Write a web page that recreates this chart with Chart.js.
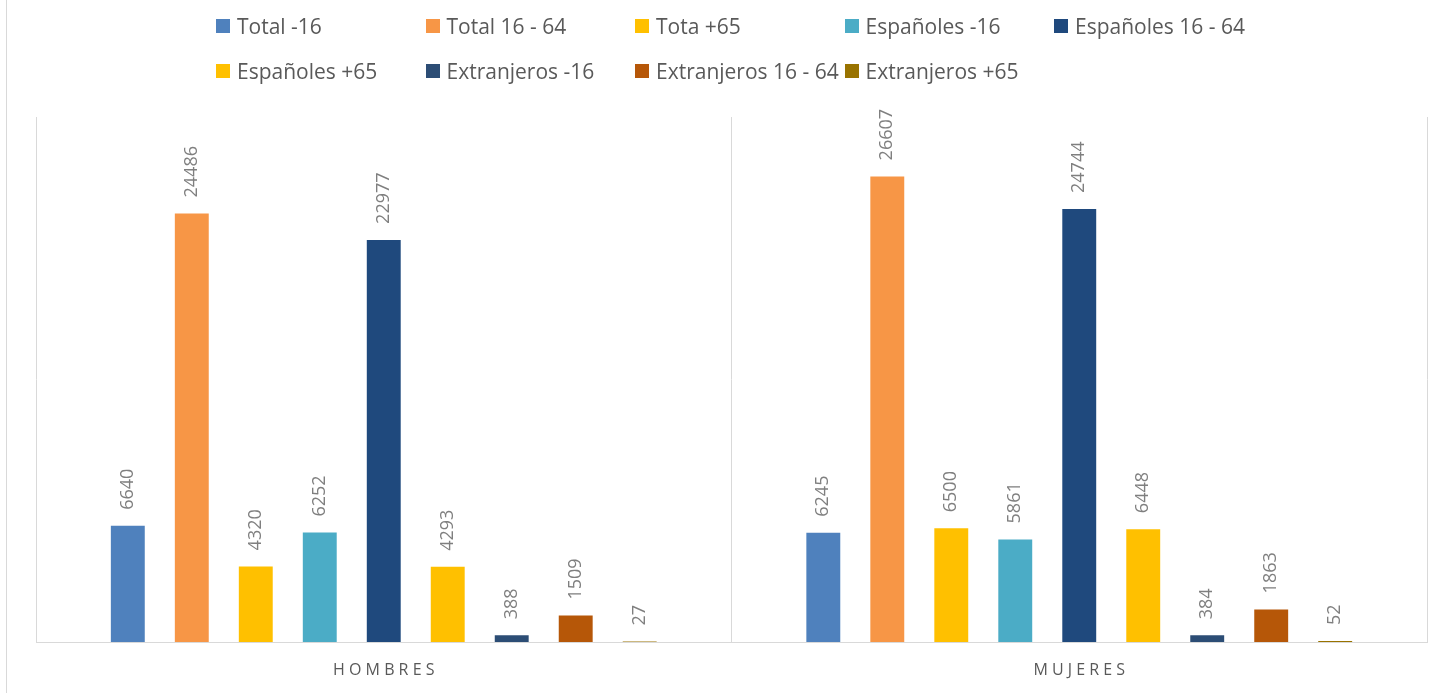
<!DOCTYPE html>
<html>
<head>
<meta charset="utf-8">
<script src="https://cdn.jsdelivr.net/npm/chart.js@4/dist/chart.umd.min.js"></script>
<style>
  html, body { margin: 0; padding: 0; background: #fff; }
  #marco { position: relative; width: 1445px; height: 693px; }
  #borde { position: absolute; left: 6px; top: 0; width: 1px; height: 693px; background: #d9d9d9; }
  #leyenda {
    position: absolute; left: 216px; top: 11px;
    display: grid; grid-template-columns: repeat(5, 209.5px); row-gap: 15px;
    font-family: "Open Sans", sans-serif; font-size: 21px; color: #595959;
  }
  #leyenda div { display: flex; align-items: center; height: 30px; white-space: nowrap; }
  #leyenda span.caja { width: 14px; height: 14px; margin-right: 7px; display: inline-block; flex: none; }
</style>
</head>
<body>
<div id="marco">
  <div id="borde"></div>
  <canvas id="grafico" width="1445" height="693"></canvas>
  <div id="leyenda"></div>
</div>
<script>
const categorias = ["HOMBRES", "MUJERES"];
const series = ["Total -16", "Total 16 - 64", "Tota +65", "Españoles -16", "Españoles 16 - 64",
                "Españoles +65", "Extranjeros -16", "Extranjeros 16 - 64", "Extranjeros +65"];
const totalMenores = [6640, 6245];
const total1664 = [24486, 26607];
const totalMayores = [4320, 6500];
const espMenores = [6252, 5861];
const esp1664 = [22977, 24744];
const espMayores = [4293, 6448];
const extMenores = [388, 384];
const ext1664 = [1509, 1863];
const extMayores = [27, 52];
const colores = ["#4F81BD", "#F79646", "#FFC000", "#4BACC6", "#1F497D",
                 "#FFC000", "#2C4D75", "#B65708", "#997300"];

const valores = [totalMenores, total1664, totalMayores, espMenores, esp1664,
                 espMayores, extMenores, ext1664, extMayores];

const ctx = document.getElementById("grafico").getContext("2d");

// etiquetas verticales encima de cada barra
const etiquetas = {
    id: "etiquetas",
    afterDatasetsDraw(chart) {
        const c = chart.ctx;
        c.save();
        c.fillStyle = "#7f7f7f";
        c.font = "18px 'Open Sans', sans-serif";
        c.textAlign = "left";
        c.textBaseline = "middle";
        chart.data.datasets.forEach((ds, i) => {
            chart.getDatasetMeta(i).data.forEach((barra, j) => {
                c.save();
                c.translate(barra.x, barra.y - 16);
                c.rotate(-Math.PI / 2);
                c.fillText(String(ds.data[j]), 0, 0);
                c.restore();
            });
        });
        c.restore();
    }
};

const leyendaHtml = {
    id: "leyendaHtml",
    afterUpdate(chart) {
        const cont = document.getElementById("leyenda");
        cont.innerHTML = "";
        chart.data.datasets.forEach(ds => {
            const item = document.createElement("div");
            const caja = document.createElement("span");
            caja.className = "caja";
            caja.style.background = ds.backgroundColor;
            item.appendChild(caja);
            item.appendChild(document.createTextNode(ds.label));
            cont.appendChild(item);
        });
    }
};

new Chart(ctx, {
    type: "bar",
    data: {
        labels: categorias,
        datasets: series.map((s, i) => ({
            label: s,
            data: valores[i],
            backgroundColor: colores[i],
            borderWidth: 0,
            categoryPercentage: 0.828,
            barPercentage: 0.53
        }))
    },
    options: {
        responsive: false,
        animation: false,
        layout: { padding: { top: 117, left: 36, right: 18, bottom: 0 } },
        plugins: { legend: { display: false }, tooltip: { enabled: false } },
        scales: {
            x: {
                afterFit(scale) { scale.height = 51; },
                grid: { color: "#d9d9d9", drawTicks: false, offset: true },
                border: { color: "#d9d9d9" },
                ticks: {
                    padding: 19,
                    color: "#595959",
                    font: { family: "'Open Sans', sans-serif", size: 16 },
                    callback: function (v) { return this.getLabelForValue(v).split("").join(" "); }
                }
            },
            y: { display: false, min: 0, max: 30000 }
        }
    },
    plugins: [etiquetas, leyendaHtml]
});
</script>
</body>
</html>
